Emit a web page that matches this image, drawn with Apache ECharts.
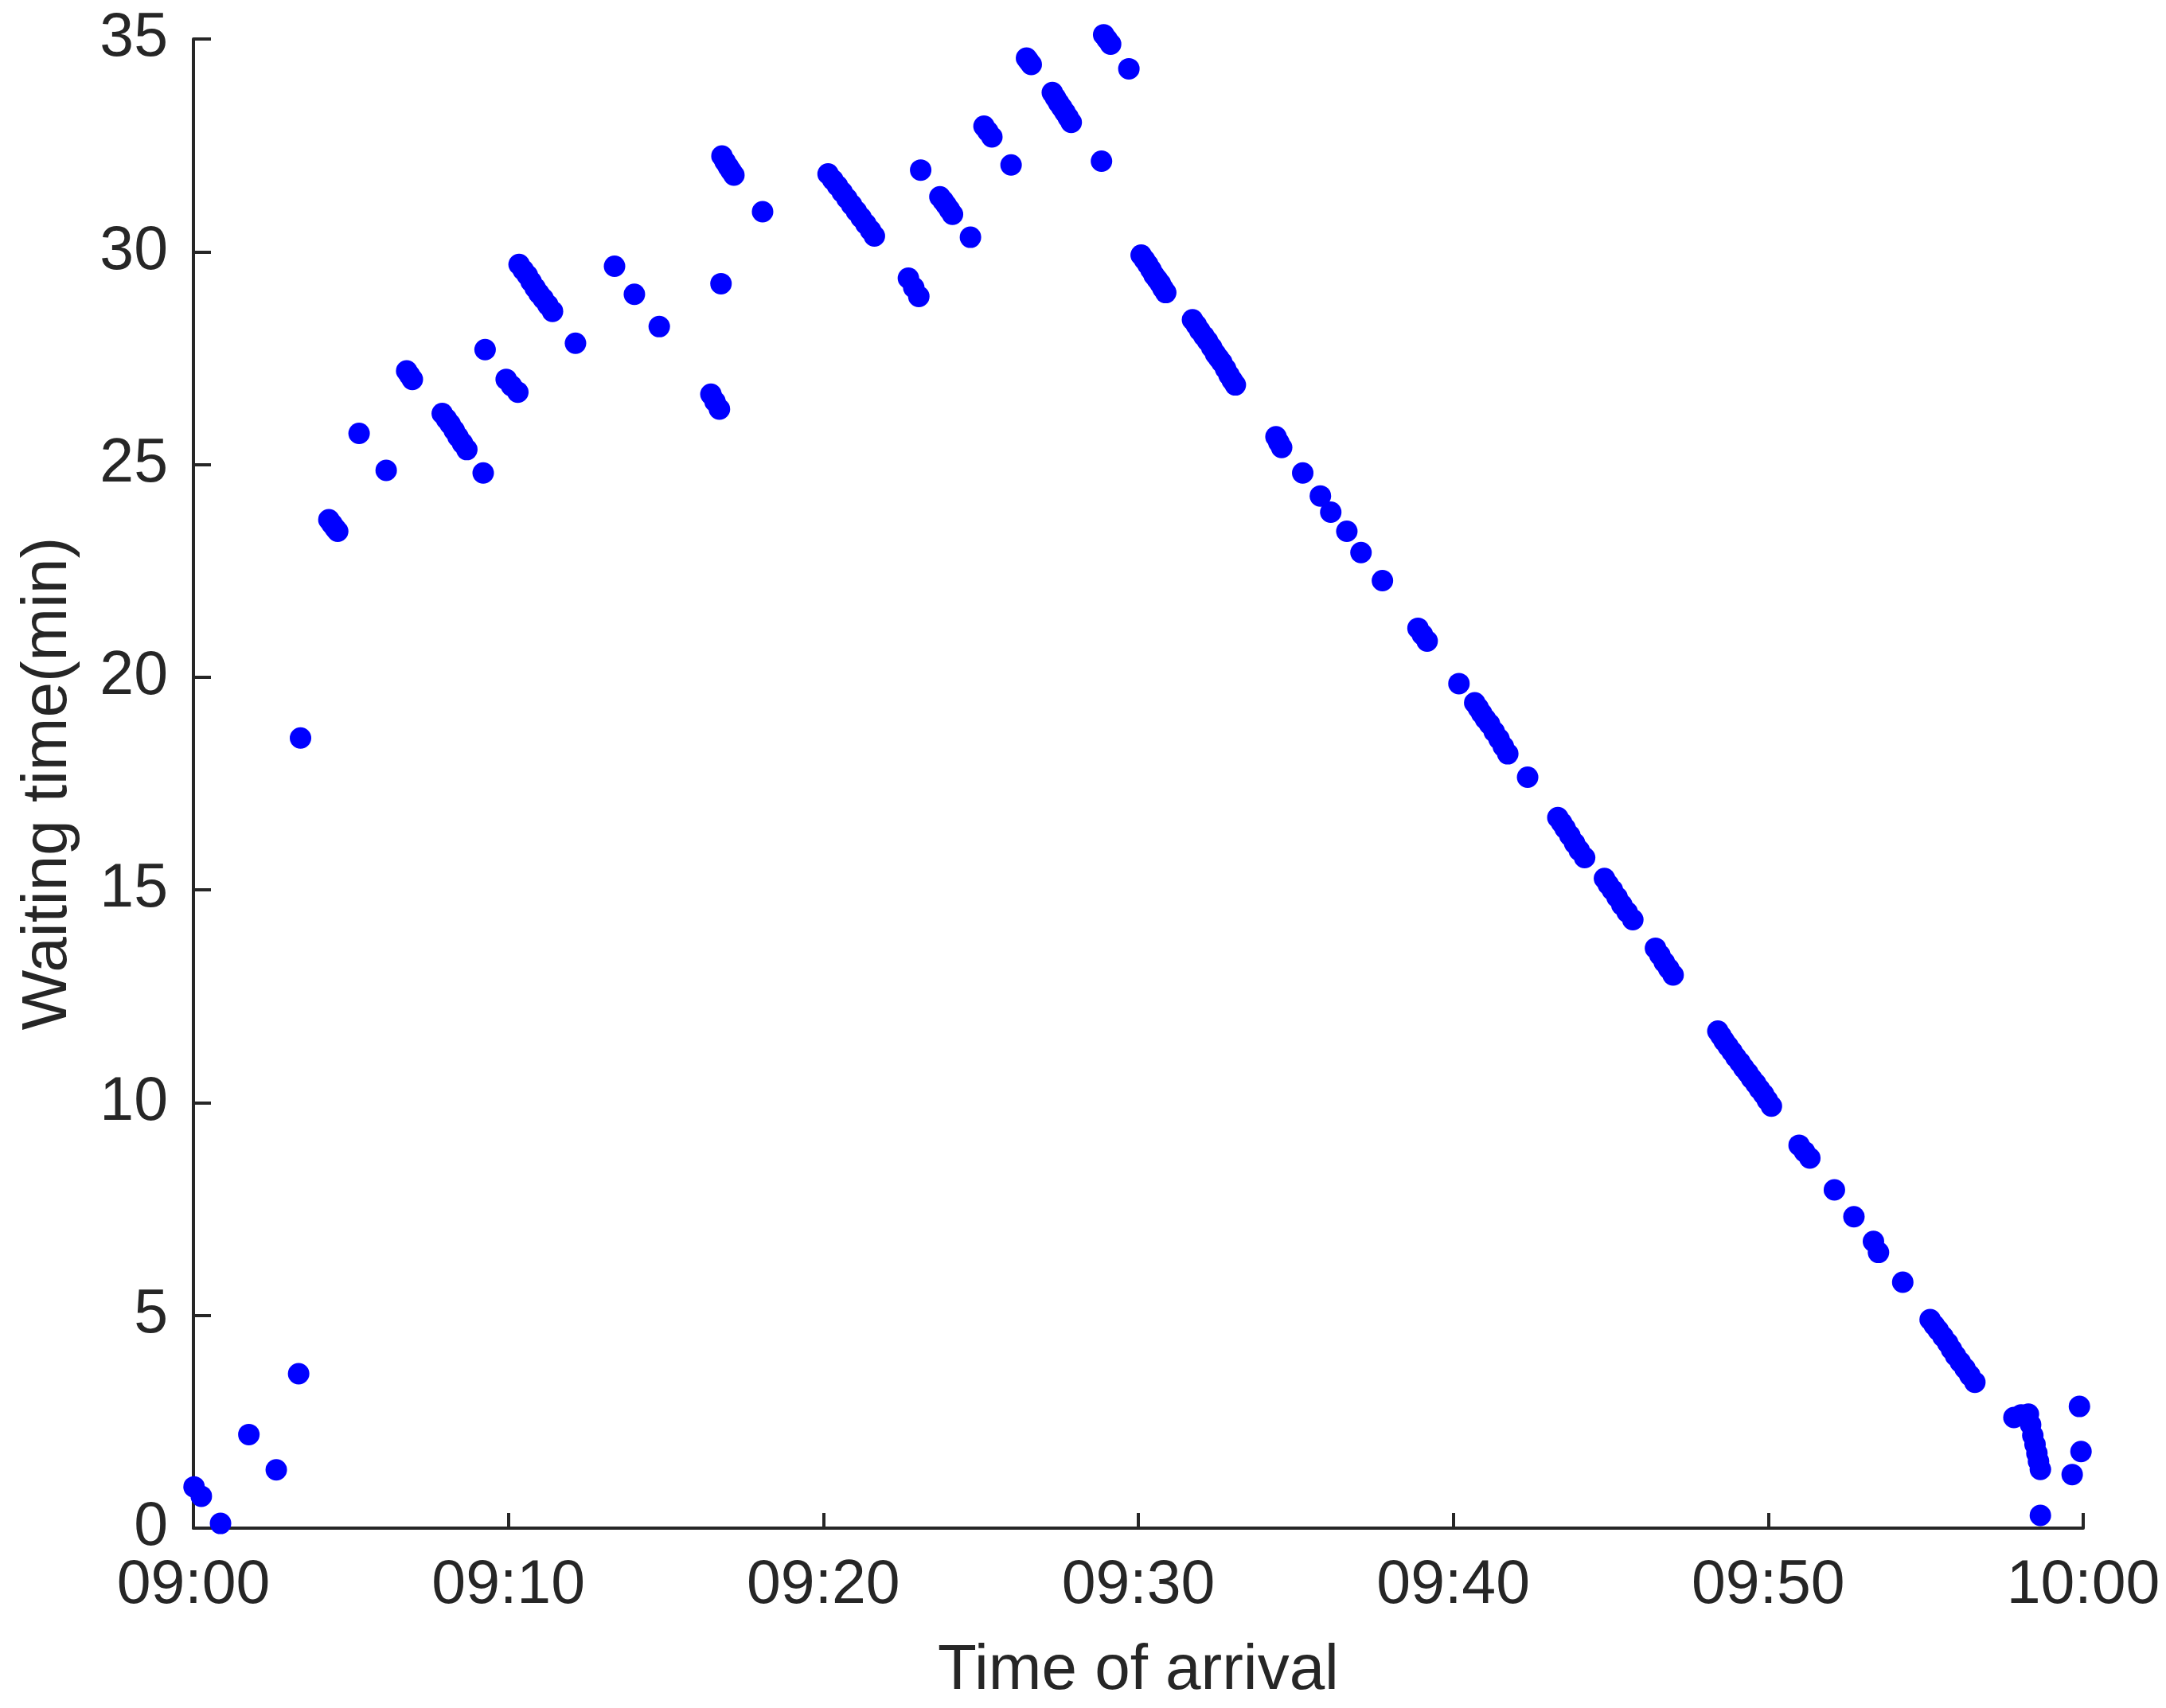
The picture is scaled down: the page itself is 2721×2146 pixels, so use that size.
<!DOCTYPE html>
<html>
<head>
<meta charset="utf-8">
<script src="https://cdn.jsdelivr.net/npm/echarts@6/dist/echarts.min.js"></script>
<style>
html,body{margin:0;padding:0;background:#ffffff;}
#chart{width:2721px;height:2146px;}
</style>
</head>
<body>
<div id="chart"></div>
<script>
// Arrival time, minutes after 09:00
const arrivalMinutes = [
  0.02, 0.25, 0.86, 1.76, 2.63, 3.34, 3.40,
  4.30, 4.40, 4.50, 4.58,
  5.26, 6.12,
  6.77, 6.86, 6.95,
  7.90, 8.03, 8.15, 8.28, 8.40, 8.54, 8.68,
  9.20, 9.26,
  9.93, 10.10, 10.30,
  10.34, 10.47, 10.60, 10.72, 10.85, 10.97, 11.10, 11.25, 11.40,
  12.13, 13.37, 14.00, 14.79,
  16.43, 16.56, 16.70,
  16.75,
  16.78, 16.88, 16.98, 17.07, 17.16,
  18.07,
  20.15, 20.30, 20.45, 20.60, 20.75, 20.90, 21.05, 21.20, 21.35, 21.50, 21.62,
  22.70, 22.87, 23.03,
  23.09,
  23.70, 23.80, 23.90, 24.00, 24.10,
  24.67,
  25.10, 25.22, 25.35,
  25.96,
  26.45, 26.52, 26.60,
  27.27, 27.37, 27.47, 27.57, 27.67, 27.77, 27.87,
  28.83,
  28.90, 29.01, 29.12,
  29.70,
  30.09, 30.20, 30.30, 30.40, 30.50, 30.60, 30.70, 30.78, 30.87,
  31.72, 31.84, 31.95, 32.08, 32.20, 32.33, 32.45, 32.55, 32.65, 32.77, 32.88, 32.98, 33.08,
  34.37, 34.46, 34.55,
  35.22, 35.78, 36.11, 36.62, 37.07, 37.75,
  38.88, 39.02, 39.17,
  40.18,
  40.68, 40.79, 40.90, 41.02, 41.15, 41.30, 41.45, 41.59, 41.73,
  42.36,
  43.32, 43.44, 43.55, 43.70, 43.85, 44.00, 44.17,
  44.80, 44.92, 45.05, 45.20, 45.35, 45.52, 45.70,
  46.42, 46.56, 46.70, 46.84, 46.98,
  48.40, 48.50, 48.60, 48.72, 48.85, 48.97, 49.10, 49.22, 49.35, 49.47, 49.60, 49.72, 49.85, 49.97, 50.10,
  50.98, 51.15, 51.32,
  52.10, 52.72, 53.34, 53.50, 54.27,
  55.14, 55.27, 55.40, 55.55, 55.70, 55.82, 55.95, 56.10, 56.25, 56.40, 56.56,
  57.80, 58.03, 58.26, 58.33, 58.40, 58.47, 58.53, 58.58, 58.64,
  58.64, 59.65, 59.93, 59.88
];
// Waiting time, minutes
const waitingMinutes = [
  0.97, 0.75, 0.11, 2.20, 1.37, 3.63, 18.57,
  23.70, 23.60, 23.50, 23.43,
  25.73, 24.86,
  27.20, 27.10, 27.00,
  26.20, 26.07, 25.95, 25.80, 25.65, 25.50, 25.35,
  24.80, 27.70,
  27.00, 26.85, 26.70,
  29.70, 29.57, 29.45, 29.30, 29.15, 29.02, 28.90, 28.75, 28.60,
  27.85, 29.66, 29.00, 28.24,
  26.65, 26.48, 26.30,
  29.25,
  32.25, 32.12, 32.00, 31.90, 31.80,
  30.94,
  31.83, 31.69, 31.55, 31.40, 31.25, 31.10, 30.95, 30.80, 30.65, 30.50, 30.37,
  29.38, 29.16, 28.95,
  31.92,
  31.29, 31.20, 31.10, 30.99, 30.88,
  30.34,
  32.95, 32.83, 32.70,
  32.04,
  34.55, 34.48, 34.40,
  33.74, 33.62, 33.50, 33.39, 33.28, 33.16, 33.04,
  32.13,
  35.10, 34.99, 34.88,
  34.30,
  29.92, 29.81, 29.70, 29.58, 29.45, 29.35, 29.25, 29.14, 29.04,
  28.40, 28.28, 28.15, 28.02, 27.90, 27.75, 27.60, 27.50, 27.40, 27.25, 27.10, 26.98, 26.87,
  25.65, 25.52, 25.40,
  24.80, 24.26, 23.88, 23.43, 22.93, 22.27,
  21.15, 21.00, 20.85,
  19.85,
  19.40, 19.28, 19.15, 19.02, 18.90, 18.72, 18.55, 18.37, 18.20,
  17.65,
  16.70, 16.58, 16.45, 16.28, 16.10, 15.93, 15.76,
  15.27, 15.13, 15.00, 14.83, 14.65, 14.48, 14.30,
  13.63, 13.47, 13.30, 13.15, 13.00,
  11.68, 11.57, 11.45, 11.33, 11.20, 11.07, 10.95, 10.82, 10.70, 10.57, 10.45, 10.32, 10.20, 10.06, 9.92,
  9.00, 8.85, 8.70,
  7.95, 7.32, 6.74, 6.48, 5.78,
  4.90, 4.77, 4.65, 4.50, 4.35, 4.20, 4.05, 3.90, 3.75, 3.59, 3.43,
  2.60, 2.66, 2.68, 2.43, 2.18, 1.97, 1.76, 1.57, 1.38,
  0.30, 1.26, 1.80, 2.86
];
const xTickLabels = ['09:00', '09:10', '09:20', '09:30', '09:40', '09:50', '10:00'];
const xAxisTitle = 'Time of arrival';
const yAxisTitle = 'Waiting time(min)';

const points = arrivalMinutes.map((t, i) => [t, waitingMinutes[i]]);
const axisColor = '#262626';
const fontFamily = '"Liberation Sans", Arial, Helvetica, sans-serif';

const chart = echarts.init(document.getElementById('chart'), null, {renderer: 'canvas'});
chart.setOption({
  animation: false,
  backgroundColor: '#ffffff',
  grid: {left: 243, top: 49, width: 2374, height: 1871, containLabel: false},
  xAxis: {
    type: 'value', min: 0, max: 60, interval: 10,
    name: xAxisTitle, nameLocation: 'middle', nameGap: 140,
    nameTextStyle: {fontSize: 80, color: axisColor, fontFamily: fontFamily},
    axisLine: {show: true, onZero: false, lineStyle: {color: axisColor, width: 4}},
    axisTick: {show: true, inside: true, length: 19, lineStyle: {color: axisColor, width: 4}},
    axisLabel: {
      show: true, margin: 34, fontSize: 77, color: axisColor, fontFamily: fontFamily,
      formatter: v => xTickLabels[Math.round(v / 10)]
    },
    splitLine: {show: false}
  },
  yAxis: {
    type: 'value', min: 0, max: 35, interval: 5,
    name: yAxisTitle, nameLocation: 'middle', nameGap: 142, nameRotate: 90,
    nameTextStyle: {fontSize: 80, color: axisColor, fontFamily: fontFamily},
    axisLine: {show: true, onZero: false, lineStyle: {color: axisColor, width: 4}},
    axisTick: {show: true, inside: true, length: 22, lineStyle: {color: axisColor, width: 4}},
    axisLabel: {show: true, margin: 32, fontSize: 77, color: axisColor, fontFamily: fontFamily},
    splitLine: {show: false}
  },
  series: [{
    type: 'scatter',
    data: points,
    symbol: 'circle',
    symbolSize: 27,
    clip: false,
    itemStyle: {color: '#0000ff', opacity: 1}
  }]
});
</script>
</body>
</html>
